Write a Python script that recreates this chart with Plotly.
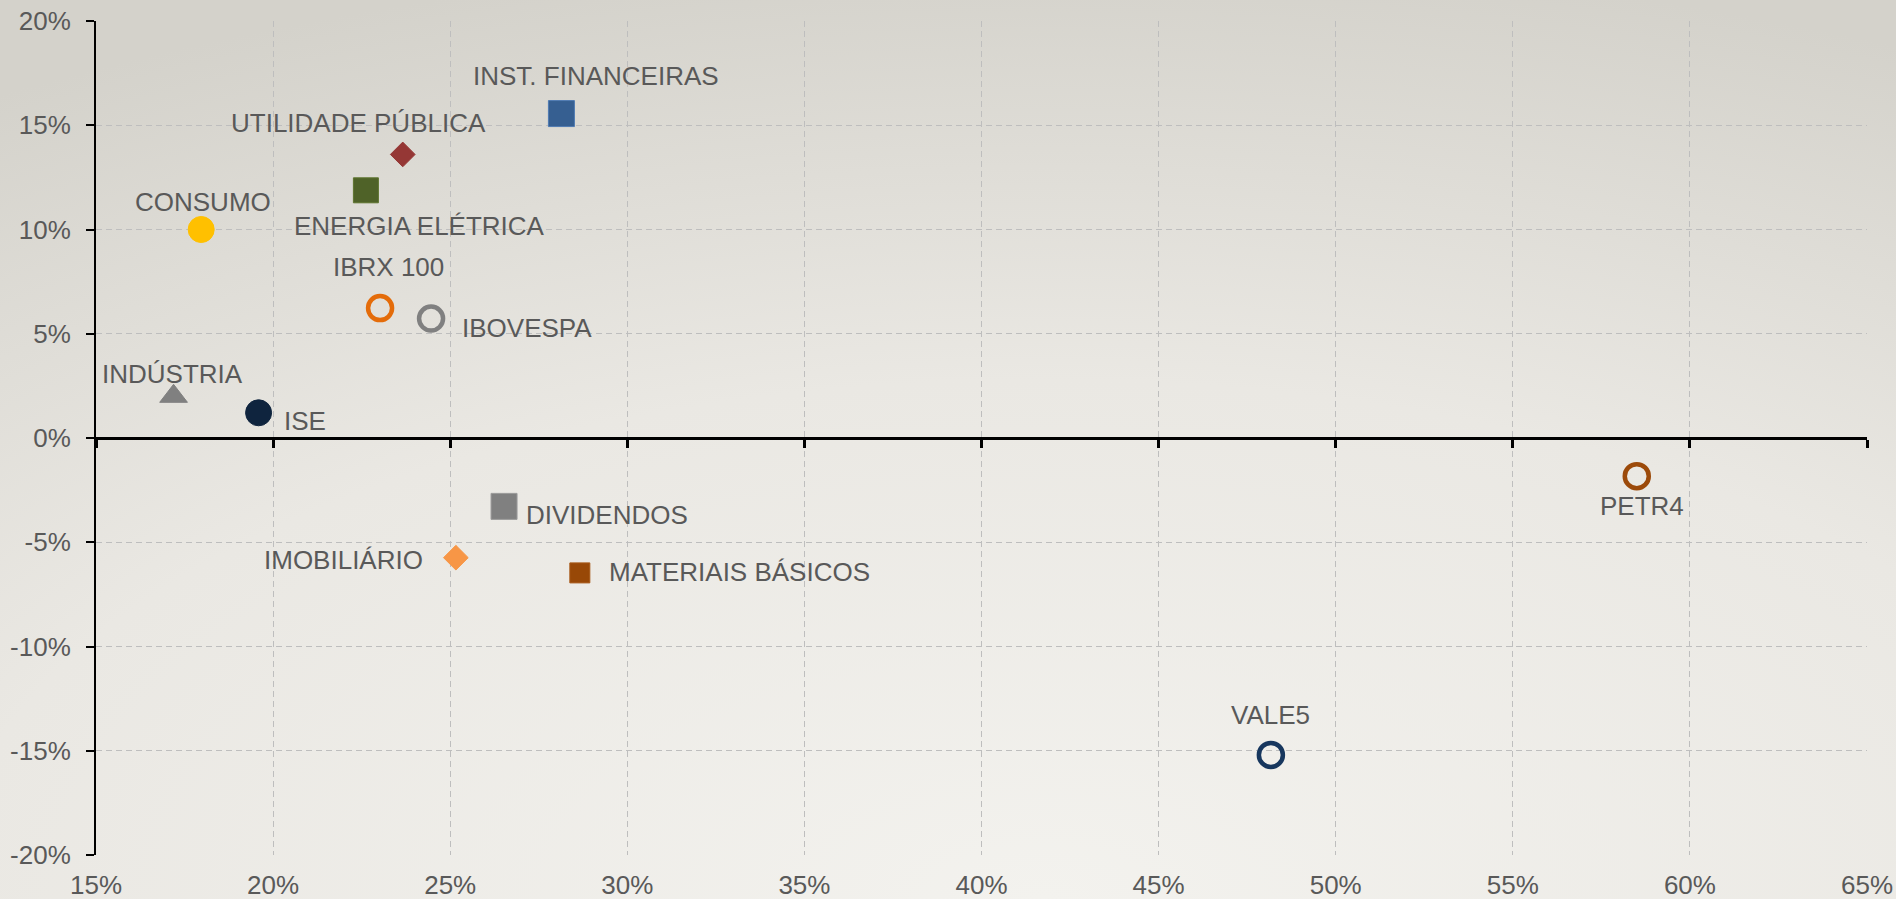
import base64
import plotly.graph_objects as go

# ---- data ----
names = ["INST. FINANCEIRAS", "UTILIDADE PÚBLICA", "ENERGIA ELÉTRICA", "CONSUMO",
         "IBRX 100", "IBOVESPA", "INDÚSTRIA", "ISE", "DIVIDENDOS", "IMOBILIÁRIO",
         "MATERIAIS BÁSICOS", "PETR4", "VALE5"]
volatility = [28.14, 23.66, 22.62, 17.97, 23.02, 24.46, 17.19, 19.59, 26.52, 25.16, 28.66, 58.5, 48.17]
returns = [15.56, 13.6, 11.88, 10.0, 6.23, 5.73, 2.0, 1.21, -3.28, -5.74, -6.47, -1.83, -15.2]

x_ticks = [15, 20, 25, 30, 35, 40, 45, 50, 55, 60, 65]
x_tick_labels = ["15%", "20%", "25%", "30%", "35%", "40%", "45%", "50%", "55%", "60%", "65%"]
y_ticks = [-20, -15, -10, -5, 0, 5, 10, 15, 20]
y_tick_labels = ["-20%", "-15%", "-10%", "-5%", "0%", "5%", "10%", "15%", "20%"]

# ---- styles ----
symbols = ["square", "diamond", "square", "circle", "circle-open", "circle-open", "triangle-up",
           "circle", "square", "diamond", "square", "circle-open", "circle-open"]
colors = ["#365F91", "#953735", "#4F6228", "#FFC000", "#E46C0A", "#808080", "#808080",
          "#0F243E", "#808080", "#F79646", "#984807", "#9C4A0A", "#17375E"]
edge_colors = ["#4F7BB3", "#953735", "#5E7530", "#FFC000", None, None, "#808080",
               "#0F243E", "#9A9A9A", "#F79646", "#A85A1A", None, None]
sizes = [26, 19, 25, 26, 24, 24, 24, 26, 26, 19, 20, 24, 24]
label_shift = [(35, 38), (-44, 31), (54, -36), (2, 28), (8, 41), (96, -9), (-1, 22),
               (46, -8), (103, -9), (-112, -2), (160, 1), (5, -30), (0, 40)]

W, H = 1896, 899
ML, MR, MT, MB = 96, 29, 21, 44
font_family = "Arial, Liberation Sans, sans-serif"
text_color = "#595959"

fig = go.Figure()
for i, n in enumerate(names):
    is_open = symbols[i].endswith("open")
    marker = dict(symbol=symbols[i], size=sizes[i], color=colors[i])
    if is_open:
        marker["line"] = dict(width=4.5, color=colors[i])
    else:
        marker["line"] = dict(width=1, color=edge_colors[i])
    fig.add_trace(go.Scatter(x=[volatility[i]], y=[returns[i]], mode="markers",
                             marker=marker, name=n, showlegend=False,
                             hoverinfo="text", text=[n], cliponaxis=False))
    fig.add_annotation(x=volatility[i], y=returns[i], text=n, showarrow=False,
                       xshift=label_shift[i][0], yshift=label_shift[i][1],
                       xanchor="center", yanchor="middle",
                       font=dict(family=font_family, size=26, color=text_color))

# empty trace so that the zero-line axis (x2) is drawn
fig.add_trace(go.Scatter(x=[None], y=[None], xaxis="x2", showlegend=False, hoverinfo="skip"))

# background gradient (svg)
svg = f'''<svg xmlns="http://www.w3.org/2000/svg" width="{W}" height="{H}" viewBox="0 0 {W} {H}" preserveAspectRatio="none">
<defs><radialGradient id="g" cx="0.55" cy="1.0" r="1.05" gradientUnits="objectBoundingBox">
<stop offset="0" stop-color="#F3F2EE"/><stop offset="0.55" stop-color="#EAE8E3"/>
<stop offset="1" stop-color="#D4D2CB"/></radialGradient></defs>
<rect width="{W}" height="{H}" fill="url(#g)"/></svg>'''
src = "data:image/svg+xml;base64," + base64.b64encode(svg.encode()).decode()
pw = W - ML - MR
ph = H - MT - MB
fig.add_layout_image(dict(source=src, xref="paper", yref="paper",
                          x=-ML / pw, y=1 + MT / ph, sizex=W / pw, sizey=H / ph,
                          xanchor="left", yanchor="top", sizing="stretch", layer="below"))

grid = dict(showgrid=True, gridcolor="#BEBEBE", gridwidth=1.3, griddash="6px,4px")

fig.update_layout(
    autosize=True,
    margin=dict(l=ML, r=MR, t=MT, b=MB, pad=0, autoexpand=False),
    paper_bgcolor="#E8E6E0",
    plot_bgcolor="rgba(0,0,0,0)",
    font=dict(family=font_family, size=26, color=text_color),
    xaxis=dict(range=[15, 65], tickmode="array", tickvals=x_ticks, ticktext=x_tick_labels,
               showline=False, zeroline=False, ticks="", ticklabelstandoff=12, automargin=False,
               tickfont=dict(size=26, color=text_color), **grid),
    xaxis2=dict(range=[15, 65], overlaying="x", anchor="free", position=0.5, side="bottom",
                tickmode="array", tickvals=x_ticks, showticklabels=False, showgrid=False,
                zeroline=False, showline=True, linecolor="#000000", linewidth=3, automargin=False,
                ticks="outside", ticklen=8, tickwidth=3, tickcolor="#000000"),
    yaxis=dict(range=[-20, 20], tickmode="array", tickvals=y_ticks, ticktext=y_tick_labels,
               showline=True, linecolor="#000000", linewidth=2, automargin=False,
               ticks="outside", ticklen=8, tickwidth=2, tickcolor="#000000",
               zeroline=True, zerolinecolor="#000000", zerolinewidth=3,
               ticklabelstandoff=10, tickfont=dict(size=26, color=text_color), **grid),
)

fig.write_html("out.html",
               config={"displayModeBar": False},
               default_width=f"{W}px; position:fixed; left:0; top:0",
               default_height=f"{H}px")
